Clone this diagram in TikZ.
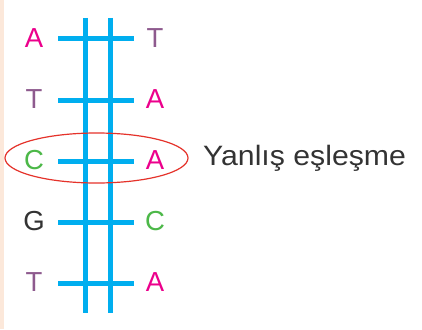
\documentclass[tikz,border=0pt]{standalone}
\usepackage{fontspec}
\usetikzlibrary{shapes.geometric}
\setmainfont{Liberation Sans}
\definecolor{dnablue}{HTML}{00AEEF}
\definecolor{magA}{HTML}{EC008C}
\definecolor{purT}{HTML}{8E5A8E}
\definecolor{grnC}{HTML}{4CB848}
\definecolor{grayG}{HTML}{333333}
\definecolor{redE}{HTML}{E5322A}
\definecolor{peach}{HTML}{FCE8DA}
\begin{document}
\begin{tikzpicture}[x=1pt,y=-1pt,
  strand/.style={draw=dnablue,line width=5pt},
  bar/.style={draw=dnablue,line width=5pt},
  base/.style={font=\fontsize{27.5}{27.5}\selectfont,inner sep=0pt,anchor=center},
  lbl/.style={font=\fontsize{28}{28}\selectfont,text=grayG,inner sep=0pt,anchor=base west,xscale=1.08}]
\useasboundingbox (0,0) rectangle (422,329);
\fill[white] (0,0) rectangle (422,329);
\fill[peach] (0,0) rectangle (4,329);
% strands
\coordinate (s1t) at (85,18); \coordinate (s1b) at (85,313);
\coordinate (s2t) at (110,18); \coordinate (s2b) at (110,313);
\draw[strand] (s1t) -- (s1b);
\draw[strand] (s2t) -- (s2b);
% rows
\foreach \y/\l/\lc/\r/\rc [count=\i] in {39/A/magA/T/purT, 100/T/purT/A/magA, 161/C/grnC/A/magA, 222/G/grayG/C/grnC, 283/T/purT/A/magA}{
  \coordinate (bl\i) at (58,\y);
  \coordinate (br\i) at (134,\y);
  \draw[bar] (bl\i) -- (br\i);
  \node[base,text=\lc] (L\i) at (34,\y-1) {\l};
  \node[base,text=\rc] (R\i) at (155,\y-1) {\r};
}
\node[draw=redE,line width=1.2pt,ellipse,minimum width=183pt,minimum height=50pt,inner sep=0pt] (ell) at (96.5,158) {};
\node[lbl] (txt) at (203,165) {Yanlış eşleşme};
\end{tikzpicture}
\end{document}
